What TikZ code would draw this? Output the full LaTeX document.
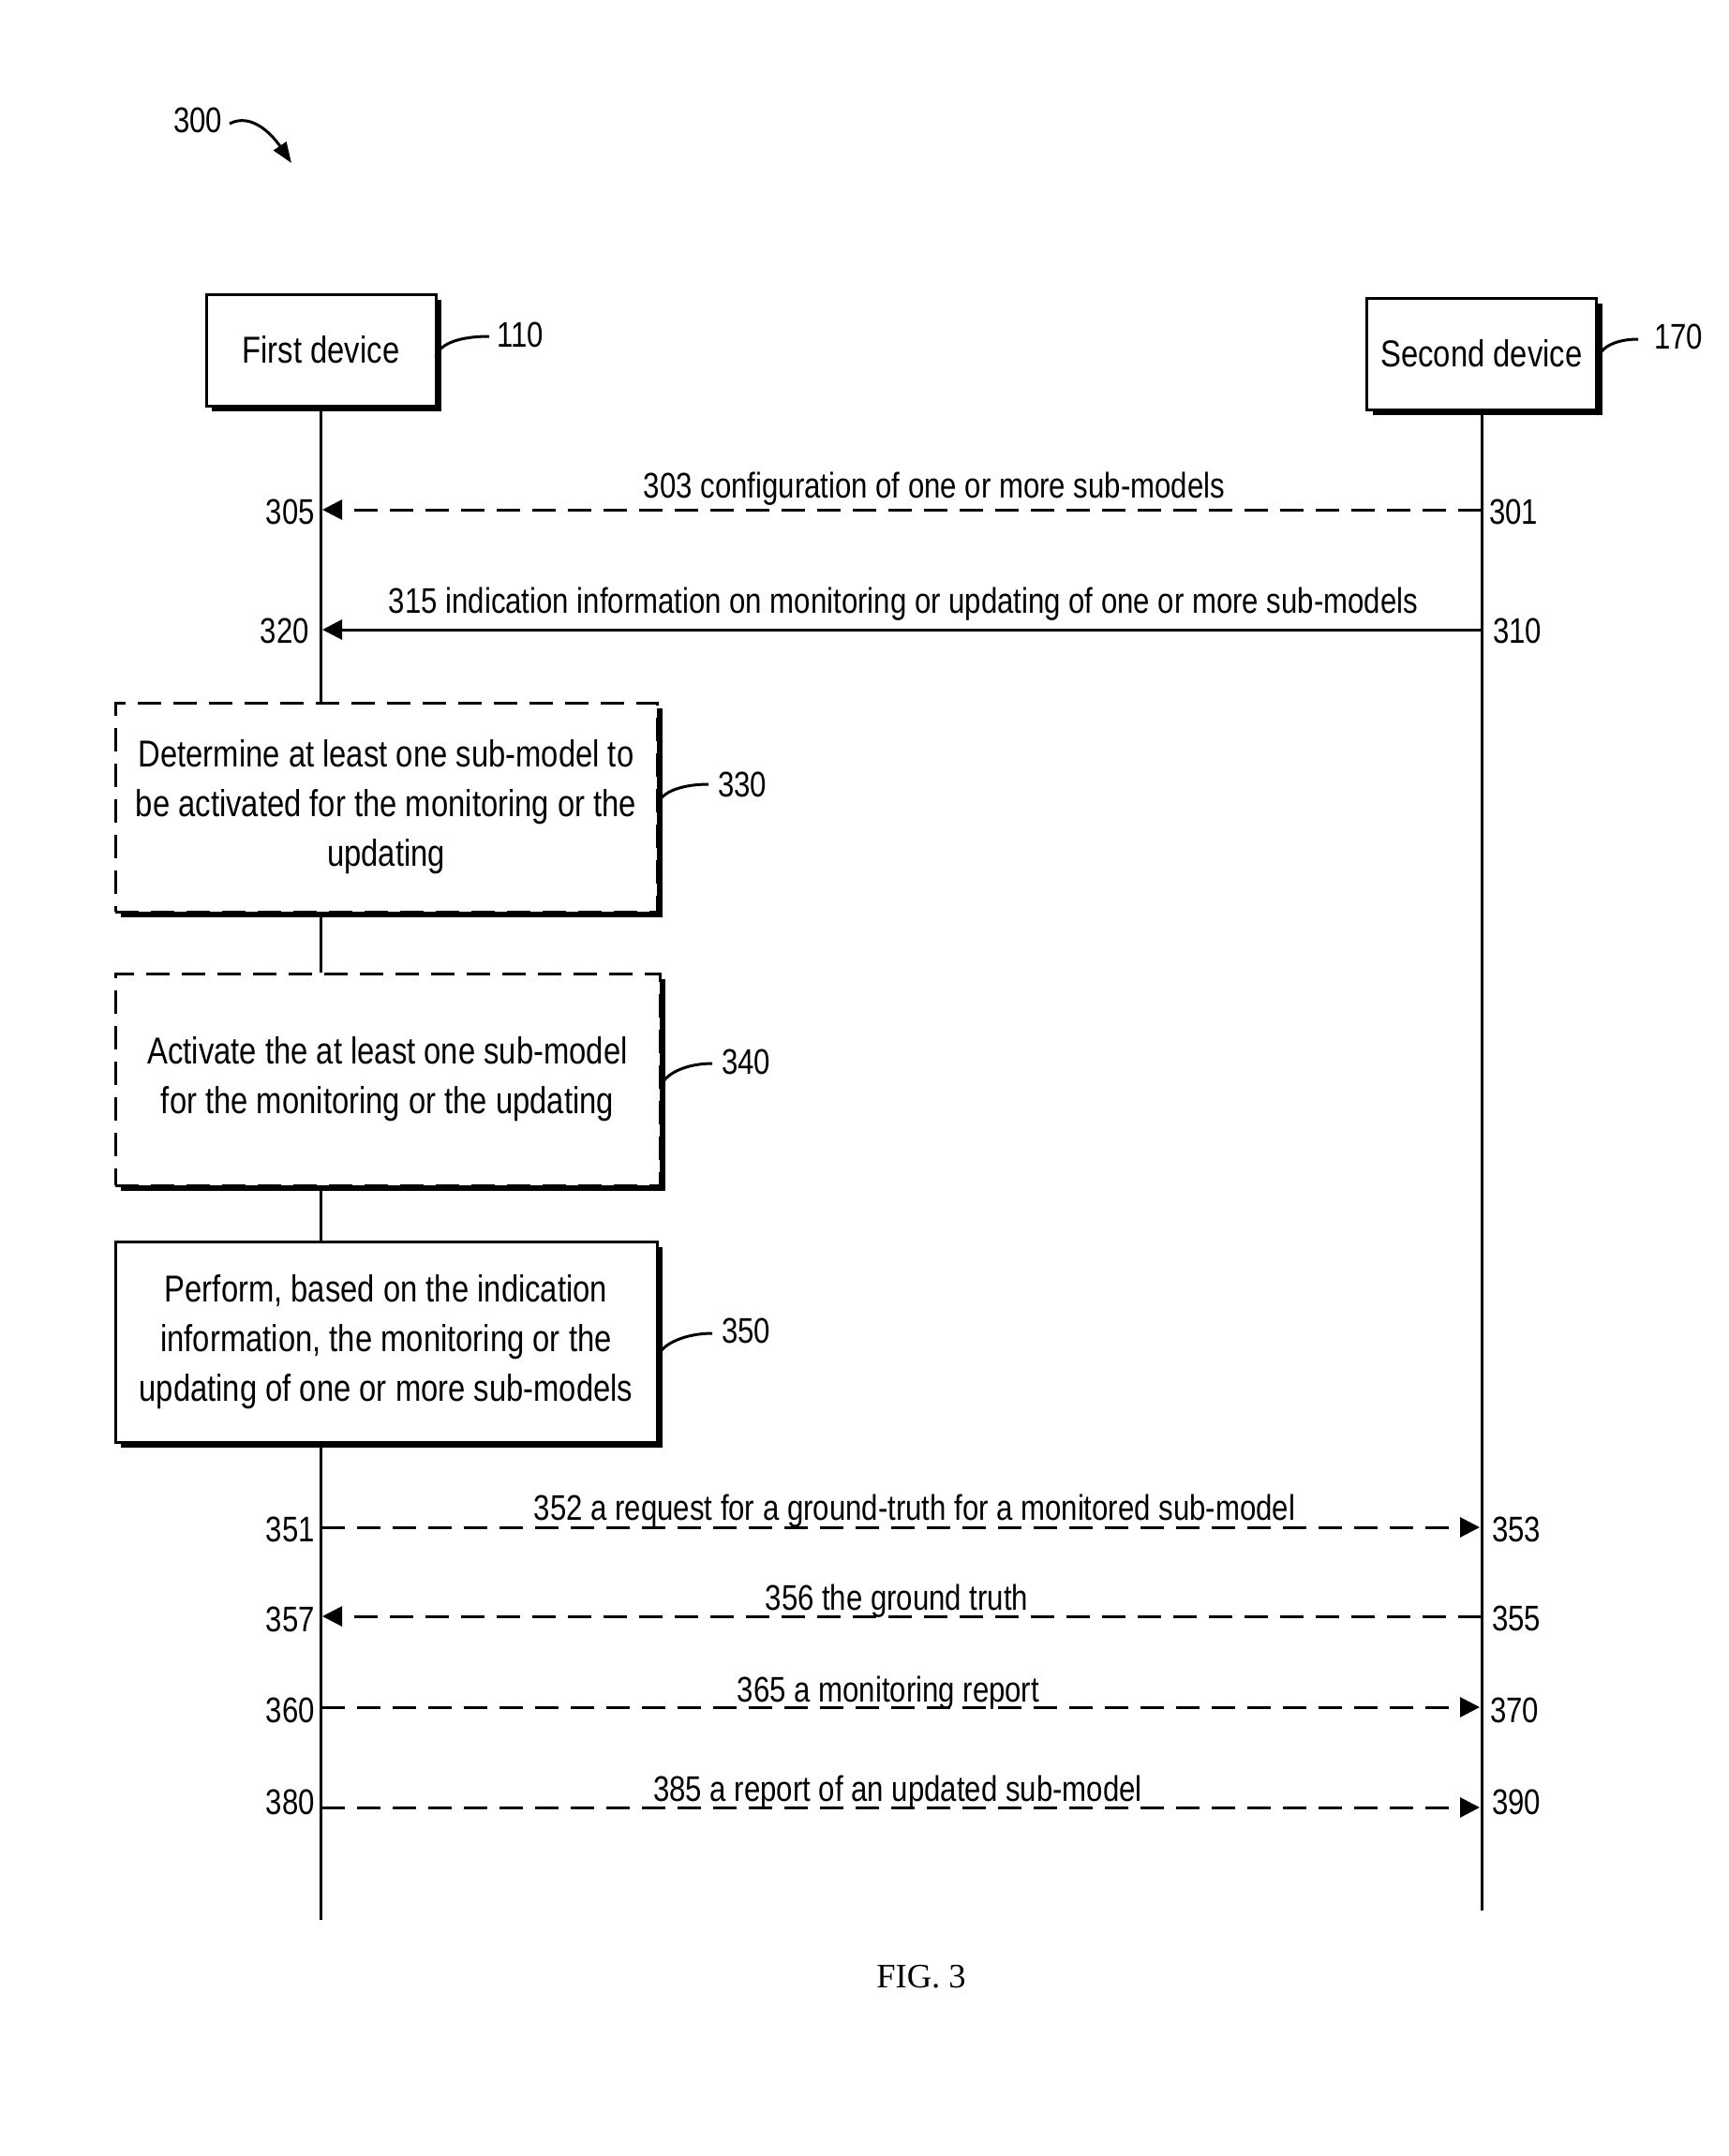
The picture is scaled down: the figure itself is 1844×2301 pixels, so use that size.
\documentclass[tikz,border=0pt]{standalone}
\usepackage{fontspec}
\setmainfont{Liberation Sans}[FakeStretch=0.82]
\newfontfamily\figfont{Liberation Serif}
\usetikzlibrary{arrows.meta,shadows}
\begin{document}
\begin{tikzpicture}[x=1pt,y=-1pt,
  lw/.style={line width=3pt},
  shad/.style={drop shadow={shadow xshift=6pt,shadow yshift=-6pt,fill=black,opacity=1}},
  devbox/.style={draw, line width=3pt, fill=white, shad, minimum width=245pt, minimum height=119pt,
    inner sep=0pt, font=\fontsize{40}{53}\selectfont},
  procbox/.style={draw, line width=3pt, fill=white, shad, inner sep=0pt, align=center,
    font=\fontsize{40}{53}\selectfont},
  dashbox/.style={procbox, dash pattern=on 25pt off 13pt},
  lbl/.style={font=\fontsize{38}{40}\selectfont, inner sep=0pt},
  msg/.style={line width=3pt, dash pattern=on 25pt off 13pt},
  tip/.style={-{Triangle[length=21pt,width=21pt]}}
]
\fill[white] (0,0) rectangle (1844,2301);
\useasboundingbox (0,0) rectangle (1844,2301);

% 300 reference
\node[lbl] (n300) at (211,128) {300};
\coordinate (a300s) at (245,132);
\coordinate (a300e) at (311,174);
\draw[lw, -{Triangle[length=22pt,width=16pt]}] (a300s) .. controls (268,120) and (290,143) .. (a300e);

% devices
\node[devbox] (first) at (342.5,373.5) {First device};
\node[devbox] (second) at (1581,377.5) {Second device};

% process boxes
\node[dashbox, minimum width=578pt, minimum height=223pt] (b330) at (412,861.5)
  {Determine at least one sub-model to\\be activated for the monitoring or the\\updating};
\node[dashbox, minimum width=581pt, minimum height=226pt] (b340) at (413.5,1152)
  {Activate the at least one sub-model\\for the monitoring or the updating};
\node[procbox, minimum width=578pt, minimum height=214pt] (b350) at (412,1432)
  {Perform, based on the indication\\information, the monitoring or the\\updating of one or more sub-models};

% lifelines
\coordinate (lend) at (342.5,2049);
\coordinate (rend) at (1581,2039);
\draw[lw] (first.south) -- (first.south |- b330.north);
\draw[lw] (b330.south -| first.south) -- (b340.north -| first.south);
\draw[lw] (b340.south -| first.south) -- (b350.north -| first.south);
\draw[lw] (b350.south -| first.south) -- (lend);
\draw[lw] (second.south) -- (rend);

% callout leaders
\coordinate (l110a) at (465,381);   \coordinate (l110b) at (522,359);
\coordinate (l170a) at (1705,383);  \coordinate (l170b) at (1748,362);
\coordinate (l330a) at (702,858);   \coordinate (l330b) at (756,837);
\coordinate (l340a) at (705,1160);  \coordinate (l340b) at (760,1135);
\coordinate (l350a) at (702,1448);  \coordinate (l350b) at (760,1423);
\draw[lw] (l110a) .. controls (469,366) and (492,359) .. (l110b);
\draw[lw] (l170a) .. controls (1708,370) and (1725,362) .. (l170b);
\draw[lw] (l330a) .. controls (706,845) and (728,837) .. (l330b);
\draw[lw] (l340a) .. controls (709,1146) and (732,1135) .. (l340b);
\draw[lw] (l350a) .. controls (706,1434) and (732,1423) .. (l350b);
\node[lbl, anchor=west] (n110) at (530,357) {110};
\node[lbl, anchor=west] (n170) at (1765,359) {170};
\node[lbl, anchor=west] (n330) at (766,837) {330};
\node[lbl, anchor=west] (n340) at (770,1133) {340};
\node[lbl, anchor=west] (n350) at (770,1420) {350};

% message end points
\coordinate (L303) at (344,544);   \coordinate (R303) at (1581,544);
\coordinate (L315) at (344,672);   \coordinate (R315) at (1581,672);
\coordinate (L352) at (342.5,1630);  \coordinate (R352) at (1579,1630);
\coordinate (L356) at (344,1725);  \coordinate (R356) at (1581,1725);
\coordinate (L365) at (342.5,1822);  \coordinate (R365) at (1579,1822);
\coordinate (L385) at (342.5,1929);  \coordinate (R385) at (1579,1929);

\draw[msg, tip] (R303) -- (L303);
\draw[lw, tip] (R315) -- (L315);
\draw[msg, tip] (L352) -- (R352);
\draw[msg, tip] (R356) -- (L356);
\draw[msg, tip] (L365) -- (R365);
\draw[msg, tip] (L385) -- (R385);

% message labels
\node[lbl, anchor=base] (t303) at (997,531) {303 configuration of one or more sub-models};
\node[lbl, anchor=base] (t315) at (964,654) {315 indication information on monitoring or updating of one or more sub-models};
\node[lbl, anchor=base] (t352) at (976,1622) {352 a request for a ground-truth for a monitored sub-model};
\node[lbl, anchor=base] (t356) at (957,1718) {356 the ground truth};
\node[lbl, anchor=base] (t365) at (948,1816) {365 a monitoring report};
\node[lbl, anchor=base] (t385) at (958,1922) {385 a report of an updated sub-model};

% step numbers
\node[lbl, anchor=east] (n305) at (336,546) {305};
\node[lbl, anchor=east] (n320) at (330,673) {320};
\node[lbl, anchor=west] (n301) at (1589,546) {301};
\node[lbl, anchor=west] (n310) at (1593,673) {310};
\node[lbl, anchor=east] (n351) at (336,1632) {351};
\node[lbl, anchor=east] (n357) at (336,1728) {357};
\node[lbl, anchor=east] (n360) at (336,1825) {360};
\node[lbl, anchor=east] (n380) at (336,1923) {380};
\node[lbl, anchor=west] (n353) at (1592,1632) {353};
\node[lbl, anchor=west] (n355) at (1592,1727) {355};
\node[lbl, anchor=west] (n370) at (1590,1825) {370};
\node[lbl, anchor=west] (n390) at (1592,1923) {390};

% caption
\node[font=\figfont\fontsize{36.5}{40}\selectfont, inner sep=0pt] (fig) at (983,2110) {FIG. 3};
\end{tikzpicture}
\end{document}
